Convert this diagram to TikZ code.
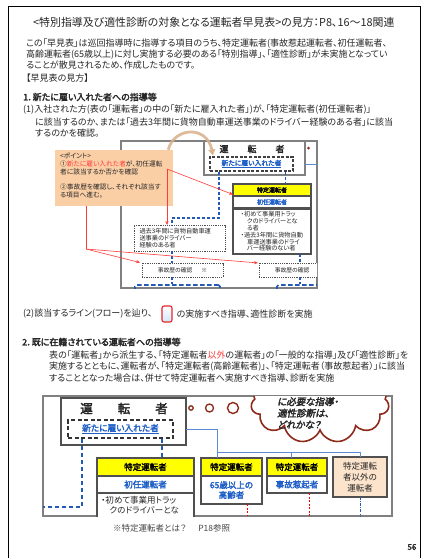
\documentclass[tikz,border=0pt]{standalone}
\usepackage{fontspec}
\setmainfont{Noto Sans CJK JP}[AutoFakeBold=2.5,AutoFakeSlant=0.2,RawFeature=+palt]
\usetikzlibrary{shapes.symbols,arrows.meta,calc}
\newcommand\fsz[1]{\fontsize{#1}{#1}\selectfont}
\newcommand\fszl[2]{\fontsize{#1}{#2}\selectfont}
\definecolor{ink}{HTML}{262626}
\definecolor{framec}{HTML}{808080}
\definecolor{boxline}{HTML}{505050}
\definecolor{jpblue}{HTML}{1F5FC8}
\definecolor{dashblue}{HTML}{2459B5}
\definecolor{lineblue}{HTML}{5B8BD0}
\definecolor{ptred}{HTML}{FF3B3B}
\definecolor{peach}{HTML}{FBCFA6}
\definecolor{peachlt}{HTML}{FCE4CC}
\definecolor{ylw}{HTML}{FFFF00}
\definecolor{tanc}{HTML}{D8B08A}
\definecolor{cloudred}{HTML}{8E2A1A}
\definecolor{iconblue}{HTML}{CFE7F7}
\definecolor{iconred}{HTML}{E8262B}
\tikzset{
  body/.style={anchor=west, inner sep=0pt, text=ink, font=\fsz{9}},
  head/.style={anchor=west, inner sep=0pt, text=ink, font=\bfseries\fsz{9}},
  bx/.style={inner sep=0pt, outer sep=0pt, draw=boxline, line width=1.1pt, fill=white},
  ybx/.style={bx, fill=ylw, font=\bfseries\fsz{6}},
  wbx/.style={bx, text=jpblue, font=\bfseries\fsz{6}},
  dotbx/.style={inner sep=0pt, outer sep=0pt, draw=boxline, line width=0.8pt, dash pattern=on 1.2pt off 1pt, fill=white},
  bdash/.style={dashblue, line width=1.2pt, dash pattern=on 3pt off 2pt},
  bdashb/.style={dashblue, line width=1.6pt, dash pattern=on 4.5pt off 2.5pt},
  redarr/.style={ptred, line width=0.6pt, -{Stealth[length=4pt,width=3.2pt]}},
}
\begin{document}
\begin{tikzpicture}[x=1pt,y=-1pt]
\useasboundingbox (0,0) rectangle (428,558);
\fill[white] (0,0) rectangle (428,558);
% page border
\draw[line width=1.6pt] (8.5,562) -- (8.5,6.5) -- (420.5,6.5) -- (420.5,562);

% title and intro
\node[anchor=west, inner sep=0pt, text=ink, font=\fsz{10.9}] (title) at (33,22)
  {<特別指導及び適性診断の対象となる運転者早見表>の見方：P8、16～18関連};
\node[body] (p1) at (26,44) {この「早見表」は巡回指導時に指導する項目のうち、特定運転者(事故惹起運転者、初任運転者、};
\node[body] (p2) at (26,54.5) {高齢運転者(65歳以上)に対し実施する必要のある「特別指導」、「適性診断」が未実施となってい};
\node[body] (p3) at (26,65) {ることが散見されるため、作成したものです。};
\node[body] (p4) at (26,78) {【早見表の見方】};
\node[head] (h1) at (23,97) {1．新たに雇い入れた者への指導等};
\node[body] (q1) at (23,110) {(1)入社された方(表の「運転者」の中の「新たに雇入れた者」)が、「特定運転者(初任運転者)」};
\node[body] (q2) at (35,122) {に該当するのか、または「過去3年間に貨物自動車運送事業のドライバー経験のある者」に該当};
\node[body] (q3) at (35,133) {するのかを確認。};

% ---------- diagram 1 ----------
\node[draw=framec, line width=1.1pt, minimum width=196pt, minimum height=147pt, inner sep=0pt] (f1) at (219,214.5) {};
\node[bx, draw=framec, line width=1.2pt, minimum width=101pt, minimum height=34pt] (drv1) at (254.5,158) {};
\node[inner sep=0pt, text=ink, font=\bfseries\fsz{9}] (drv1t) at (252,149) {運\hspace{19pt}転\hspace{19pt}者};
\node[inner sep=0pt, draw=black!75, line width=1.1pt, dash pattern=on 3pt off 1.6pt, minimum width=83pt, minimum height=14pt, text=jpblue, font=\bfseries\fsz{6.8}] (new1) at (251.5,164) {\underline{新たに雇い入れた者}};
\node[circle, fill=cloudred, inner sep=0pt, minimum size=3pt] (dot1) at (308.5,148) {};
\draw[lineblue, line width=0.8pt] (drv1.east |- new1.center) -- (f1.east |- new1.center);

\node[ybx, minimum width=78pt, minimum height=12pt] (yel1) at (272,190) {特定運転者};
\node[wbx, minimum width=78pt, minimum height=12pt] (sho1) at (272,202) {初任運転者};
\node[bx, minimum width=78pt, minimum height=45pt, text=ink, align=left, font=\fszl{6.2}{6.8}] (det1) at (272,231.5)
  {・初めて事業用トラッ\\　クのドライバーとな\\　る者\\・過去3年間に貨物自動\\　車運送事業のドライ\\　バー経験のない者};
\node[dotbx, minimum width=91pt, minimum height=26pt, text width=80pt, inner xsep=5.5pt, align=left, text=ink, font=\fszl{6.2}{7}] (kako1) at (179.5,238)
  {過去3年間に貨物自動車運\\送事業のドライバー\\経験のある者};
\node[dotbx, minimum width=81pt, minimum height=14pt, text=ink, font=\fsz{5.8}] (jiko1) at (182.5,270) {事故歴の確認\hspace{9pt}※};
\begin{scope}
  \clip (121,141) rectangle (317,288);
  \node[dotbx, minimum width=81pt, minimum height=14pt, text=ink, font=\fsz{5.8}] (jiko2) at (299.5,270) {事故歴の確認\hspace{9pt}※};
  \node[draw=dashblue, line width=1.6pt, dash pattern=on 4.5pt off 2.5pt, rounded corners=1.5pt, minimum width=85pt, minimum height=20pt, inner sep=0pt] (bot1) at (177.5,295) {};
  \node[draw=dashblue, line width=1.6pt, dash pattern=on 4.5pt off 2.5pt, rounded corners=1.5pt, minimum width=66pt, minimum height=20pt, inner sep=0pt] (bot2) at (310,295) {};
\end{scope}

% blue dashed flow
\coordinate (c0) at ($(new1.south west)+(9.5,0)$);
\coordinate (c0b) at ($(kako1.north)+(-7.5,-7)$);
\coordinate (xl) at (172,0);
\draw[bdash] (c0) |- (c0b) -- (kako1.north -| xl);
\coordinate (c1) at ($(new1.south east)+(-8,0)$);
\draw[bdash] (c1) -- (c1 |- yel1.north);
\draw[bdash] (kako1.south -| xl) -- (jiko1.north -| xl);
\draw[bdash] (jiko1.south -| xl) -- (bot1.north -| xl);
\coordinate (xr) at (300,0);
\draw[bdash] (det1.south -| xr) -- (jiko2.north -| xr);
\draw[bdash] (jiko2.south -| xr) -- (bot2.north -| xr);

% point box
\node[fill=peach, inner sep=0pt, minimum width=118pt, minimum height=56pt] (pt) at (114,178) {};
\node[anchor=north west, inner sep=0pt, align=left, text=ink, font=\fszl{6.7}{8}] (ptt) at (60,152.5)
  {<ポイント>\\①\textcolor{ptred}{新たに雇い入れた者}が、初任運転\\者に該当するか否かを確認\\[7pt]②事故歴を確認し、それぞれ該当す\\る項目へ進む。};
\coordinate (p1a) at (167,169);
\draw[redarr] (p1a) -- ($(yel1.west)+(0,4.5)$);
\draw[redarr] (p1a) -- (kako1.north -| p1a);
\coordinate (p3a) at (86,249);
\draw[ptred, line width=0.6pt] (pt.south -| p3a) -- (p3a);
\draw[redarr, shorten >=2pt] (p3a) -- (jiko1.north west);
\draw[redarr, shorten >=1pt] (p3a) -- (jiko2.north west);
\coordinate (tanS) at ($(pt.north east)+(-5,0)$);
\coordinate (tanE) at ($(new1.north west)+(3.5,-1)$);
\draw[tanc, opacity=0.85, line width=2.8pt, -{Triangle[length=6pt,width=7pt]}] (tanS) .. controls (174,127) and (207,125) .. (tanE);

% line (2)
\node[body] (l2a) at (23,314) {(2)該当するライン(フロー)を辿り、};
\node[draw=iconred, line width=1.1pt, top color=white, bottom color=iconblue, rounded corners=2pt, minimum width=10pt, minimum height=16pt, inner sep=0pt] (icon) at (167,314) {};
\node[body] (l2b) at (176.5,314) {の実施すべき指導、適性診断を実施};

% section 2
\node[head] (h2) at (22,342) {2．既に在籍されている運転者への指導等};
\node[body] (r1) at (49,355) {表の「運転者」から派生する、「特定運転者\textcolor{ptred}{以外}の運転者」の「一般的な指導」及び「適性診断」を};
\node[body] (r2) at (49,366.5) {実施するとともに、運転者が、「特定運転者(高齢運転者)」、「特定運転者（事故惹起者）」に該当};
\node[body] (r3) at (49,378) {することとなった場合は、併せて特定運転者へ実施すべき指導、診断を実施};

% ---------- diagram 2 ----------
\node[draw=framec, line width=1.1pt, minimum width=349pt, minimum height=120pt, inner sep=0pt] (f2) at (217.5,456) {};
\begin{scope}
  \clip (43,396) rectangle (392,516);
  \node[cloud, cloud puffs=11, aspect=2, draw=cloudred, line width=1.6pt, fill=white, minimum width=138pt, minimum height=80pt, inner sep=0pt] (cld) at (320,403) {};
  \node[anchor=west, inner sep=0pt, align=left, text=ink, font=\bfseries\itshape\fszl{9.5}{11.5}] (cldt) at (277,413) {に必要な指導・\\適性診断は、\\どれかな？};
  \node[bx, minimum width=97pt, minimum height=38pt] (detA) at (145.5,512) {};
  \node[anchor=west, inner sep=0pt, text=ink, font=\fsz{8.5}] (dA1) at (101,500) {・初めて事業用トラッ};
  \node[anchor=west, inner sep=0pt, text=ink, font=\fsz{8.5}] (dA2) at (101,510.5) {\hspace{8.5pt}クのドライバーとな};
\end{scope}
\node[bx, line width=1.2pt, minimum width=125pt, minimum height=47pt] (drv2) at (123.5,421.5) {};
\node[inner sep=0pt, text=ink, font=\bfseries\fsz{12.5}] (drv2t) at (124,408.5) {運\hspace{25pt}転\hspace{25pt}者};
\node[inner sep=0pt, draw=black!80, line width=1.5pt, dash pattern=on 4pt off 2.5pt, minimum width=105pt, minimum height=18pt, text=jpblue, font=\bfseries\fsz{8.7}] (new2) at (120.5,429) {\underline{新たに雇い入れた者}};
\node[circle, draw=cloudred, line width=1.3pt, inner sep=0pt, minimum size=4.4pt] (ca) at (191,408) {};
\node[circle, draw=cloudred, line width=1.3pt, inner sep=0pt, minimum size=8pt] (cb) at (209.5,408) {};
\node[circle, draw=cloudred, line width=1.4pt, inner sep=0pt, minimum size=11pt] (cc) at (233,408) {};

\node[ybx, minimum width=97pt, minimum height=18pt, font=\bfseries\fsz{8.5}] (yelA) at (145.5,467) {特定運転者};
\node[wbx, minimum width=97pt, minimum height=17pt, font=\bfseries\fsz{8.5}] (shoA) at (145.5,484.5) {初任運転者};
\node[ybx, minimum width=61pt, minimum height=18pt, font=\bfseries\fsz{8.5}] (yelB) at (231.5,467) {特定運転者};
\node[wbx, minimum width=61pt, minimum height=28pt, align=center, font=\bfseries\fszl{8.5}{10}] (shoB) at (231.5,490) {65歳以上の\\高齢者};
\node[ybx, minimum width=60pt, minimum height=18pt, font=\bfseries\fsz{8.5}] (yelC) at (297,467) {特定運転者};
\node[wbx, minimum width=60pt, minimum height=17pt, font=\bfseries\fsz{8.5}] (shoC) at (297,484.5) {事故惹起者};
\node[bx, fill=peachlt, minimum width=54pt, minimum height=40pt, align=center, text=ink, font=\fszl{8.5}{11}] (boxD) at (360,477) {特定運転\\者以外の\\運転者};

% connectors diagram 2
\coordinate (j1) at (217,429);
\draw[lineblue, line width=0.9pt] (drv2.east |- j1) -- (j1) -- (j1 |- yelB.north);
\coordinate (j2) at (217,452);
\draw[lineblue, line width=0.9pt] (j2) -| (boxD.north);
\coordinate (j3) at (291,452);
\draw[lineblue, line width=0.9pt] (j3) -- (j3 |- yelC.north);
\coordinate (k1) at (82,0);
\coordinate (k2) at (43,507);
\draw[bdashb] (new2.south -| k1) |- (k2);
\coordinate (k3) at (162,0);
\draw[bdashb] (new2.south -| k3) -- (yelA.north -| k3);
\coordinate (rr1) at (247,516);
\draw[red, line width=0.8pt, dash pattern=on 2pt off 1.5pt] (shoB.south -| rr1) -- (rr1);
\coordinate (rr2) at (309,516);
\draw[red, line width=0.8pt, dash pattern=on 2pt off 1.5pt] (shoC.south -| rr2) -- (rr2);
\coordinate (bb1) at (360,516);
\draw[dashblue, line width=0.8pt, dash pattern=on 3pt off 1.2pt on 0.8pt off 1.2pt] (boxD.south) -- (bb1);

\node[anchor=west, inner sep=0pt, text=ink!85, font=\fsz{8.5}] (foot) at (113,528) {※特定運転者とは？\hspace{12pt}P18参照};
\node[inner sep=0pt, text=ink, font=\bfseries\fsz{8}] (pg) at (412,547) {56};
\end{tikzpicture}
\end{document}
